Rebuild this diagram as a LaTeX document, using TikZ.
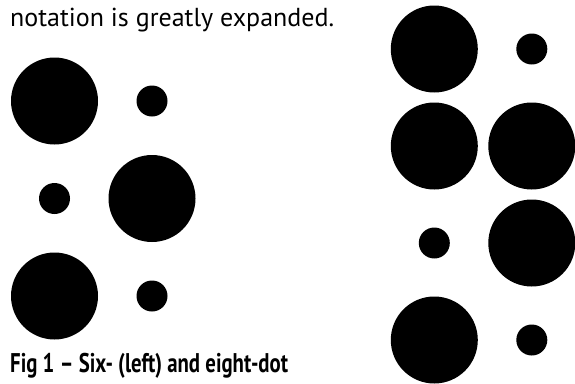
\documentclass[tikz,border=0pt]{standalone}
\usepackage{fontspec}
\usepackage{tikz}
\usetikzlibrary{positioning}
\newfontfamily\bodyfont{PT Sans}
\newfontfamily\capfont[FakeStretch=0.77]{PT Sans}
\begin{document}
\begin{tikzpicture}[
  x=1pt,y=-1pt,
  bigdot/.style={circle,fill=black,inner sep=0pt,minimum size=87pt},
  smalldot/.style={circle,fill=black,inner sep=0pt,minimum size=31pt},
  bodytext/.style={anchor=base west,inner sep=0pt,font=\bodyfont\fontsize{26}{30}\selectfont},
  captext/.style={anchor=base west,inner sep=0pt,font=\capfont\bfseries\fontsize{27}{30}\selectfont}
]
\useasboundingbox (0,0) rectangle (575,383);
\node[bodytext] (intro) at (10,26) {notation is greatly expanded.};
% six-dot cell
\node[bigdot]   (six1) at (54.5,101) {};
\node[smalldot] (six4) at (152,101) {};
\node[smalldot] (six2) at (54.5,198.5) {};
\node[bigdot]   (six5) at (152,198.5) {};
\node[bigdot]   (six3) at (54.5,296) {};
\node[smalldot] (six6) at (152,296) {};
% eight-dot cell
\node[bigdot]   (eight1) at (434.3,49) {};
\node[smalldot] (eight4) at (531.8,49) {};
\node[bigdot]   (eight2) at (434.3,146) {};
\node[bigdot]   (eight5) at (531.8,146) {};
\node[smalldot] (eight3) at (434.3,243) {};
\node[bigdot]   (eight6) at (531.8,243) {};
\node[bigdot]   (eight7) at (434.3,340) {};
\node[smalldot] (eight8) at (531.8,340) {};
\node[captext] (caption) at (10,372) {Fig 1 – Six- (left) and eight-dot};
\end{tikzpicture}
\end{document}
